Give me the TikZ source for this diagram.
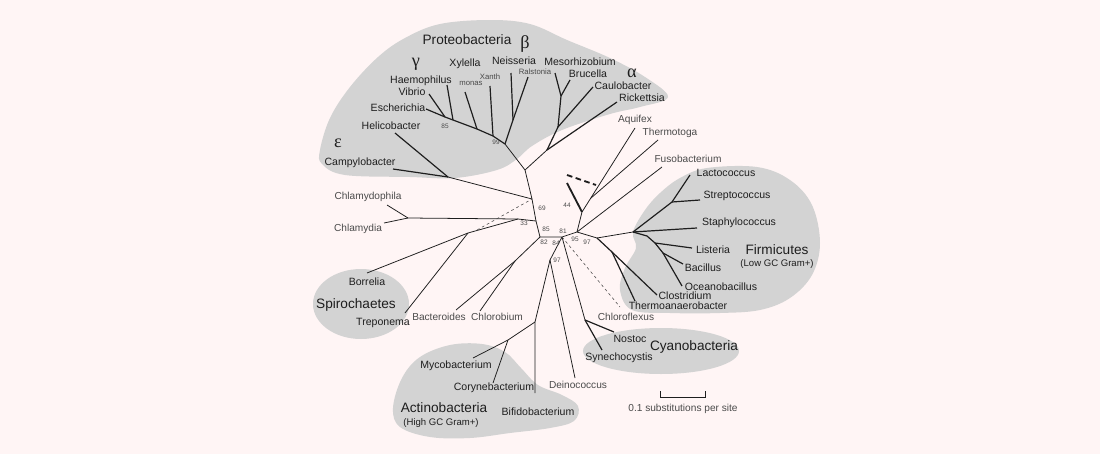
\documentclass[tikz,border=0pt]{standalone}
\usepackage{fontspec}
\setmainfont{Liberation Sans}
\newfontfamily\greekfont{Liberation Serif}
\usepackage{tikz}
\usetikzlibrary{positioning,calc}
\definecolor{TreeBg}{HTML}{FFF5F5}
\definecolor{TreeBlob}{HTML}{D3D3D3}
\definecolor{TreeInk}{HTML}{1E1E1E}
\definecolor{TreeSoft}{HTML}{4A4A4A}

\begin{document}
\begin{tikzpicture}[x=0.025cm,y=-0.025cm,
  blob/.style={fill=TreeBlob,draw=none},
  branch/.style={draw=TreeInk,line width=0.55pt},
  inbranch/.style={draw=TreeInk,line width=0.85pt},
  altbranch/.style={draw=TreeSoft,line width=0.4pt,dash pattern=on 2pt off 2pt},
  boldalt/.style={draw=TreeInk,line width=1.3pt},
  taxon/.style={font=\fontsize{7.5}{8}\selectfont,text=TreeInk,inner sep=0pt},
  outer/.style={font=\fontsize{7.2}{8}\selectfont,text=TreeSoft,inner sep=0pt},
  tiny/.style={font=\fontsize{5.5}{6}\selectfont,text=TreeSoft,inner sep=0pt},
  group/.style={font=\fontsize{9.7}{11}\selectfont,text=TreeInk,inner sep=0pt},
  greek/.style={font=\greekfont\fontsize{13}{13}\selectfont,text=TreeInk,inner sep=0pt},
  boot/.style={font=\fontsize{4.6}{5}\selectfont,text=TreeSoft,inner sep=0pt},
]
\fill[TreeBg] (0,0) rectangle (1100,454);
\useasboundingbox (0,0) rectangle (1100,454);

\fill[blob] plot[smooth cycle,tension=0.6] coordinates {(320,150) (330,118) (350,87) (378,57) (405,38) (440,24) (490,20) (530,24) (567,40) (610,58) (645,77) (668,97) (640,107) (610,114) (562,130) (532,146) (517,159) (497,170) (455,178) (410,177) (345,175) (322,164)};
\fill[blob] (361,304) ellipse [x radius=48,y radius=35];
\fill[blob] plot[smooth cycle,tension=0.6] coordinates {(393,408) (402,378) (420,357) (450,345) (482,344) (505,352) (521,368) (538,385) (562,395) (578,406) (574,421) (550,428) (510,433) (470,438) (430,437) (400,427)};
\fill[blob] (661,351) ellipse [x radius=78,y radius=23];
\fill[blob] plot[smooth cycle,tension=0.6] coordinates {(633,232) (645,210) (660,193) (680,178) (707,168) (757,167) (790,180) (812,205) (820,243) (812,275) (790,298) (760,310) (720,313) (670,313) (632,310) (620,290) (625,268) (636,248)};

\coordinate (proteo-base) at (525,170);
\coordinate (eps-join) at (532,199);
\coordinate (chla-join) at (536,221);
\coordinate (centre) at (540,237);
\coordinate (right-hub) at (562,237);
\coordinate (therm-hub) at (577,232);
\coordinate (aquif-hub) at (582,212);
\coordinate (thtg-hub) at (591,198);
\coordinate (alpha-1) at (547,150);
\coordinate (alpha-2) at (558,127);
\coordinate (alpha-3) at (561,96);
\coordinate (gb-hub) at (505,144);
\coordinate (beta-hub) at (513,120);
\coordinate (gamma-x) at (493,136);
\coordinate (gamma-m) at (477,129);
\coordinate (gamma-h) at (453,120);
\coordinate (gamma-v) at (445,117);
\coordinate (eps-hub) at (448,177);
\coordinate (chla-hub) at (518,219);
\coordinate (chla-pair) at (408,218);
\coordinate (spiro-hub) at (468,233);
\coordinate (spiro-alt) at (477,230);
\coordinate (bact-hub) at (515,261);
\coordinate (low-hub) at (550,260);
\coordinate (actino-hub) at (535,322);
\coordinate (myco-hub) at (508,340);
\coordinate (cyano-hub) at (585,320);
\coordinate (firm-base) at (597,238);
\coordinate (firm-hub) at (633,232);
\coordinate (lacto-hub) at (672,202);
\coordinate (list-hub) at (647,236);
\coordinate (list-pair) at (655,243);
\coordinate (bacil-hub) at (663,253);
\coordinate (clos-hub) at (612,252);

\coordinate (rick-tip) at (617,102);
\coordinate (caul-tip) at (593,87);
\coordinate (bruc-tip) at (570,80);
\coordinate (meso-tip) at (555,73);
\coordinate (neis-tip) at (511,73);
\coordinate (rals-tip) at (528,77);
\coordinate (xanth-tip) at (490,86);
\coordinate (monas-tip) at (465,92);
\coordinate (haem-tip) at (447,85);
\coordinate (vib-tip) at (429,94);
\coordinate (esch-tip) at (426,109);
\coordinate (heli-tip) at (395,133);
\coordinate (camp-tip) at (393,169);
\coordinate (chlp-tip) at (387,205);
\coordinate (chla-tip) at (384,223);
\coordinate (borr-tip) at (367,273);
\coordinate (trep-tip) at (405,313);
\coordinate (bact-tip) at (456,310);
\coordinate (chlo-tip) at (480,311);
\coordinate (myco-tip) at (473,358);
\coordinate (cory-tip) at (493,383);
\coordinate (bifi-tip) at (535,393);
\coordinate (deino-tip) at (575,378);
\coordinate (nost-tip) at (614,332);
\coordinate (syne-tip) at (602,350);
\coordinate (flex-tip) at (620,307);
\coordinate (aquif-tip) at (635,128);
\coordinate (thtg-tip) at (658,140);
\coordinate (fuso-tip) at (662,167);
\coordinate (lacto-tip) at (690,175);
\coordinate (strep-tip) at (700,200);
\coordinate (staph-tip) at (697,228);
\coordinate (list-tip) at (692,248);
\coordinate (bacil-tip) at (683,264);
\coordinate (ocea-tip) at (682,286);
\coordinate (clos-tip) at (657,295);
\coordinate (thana-tip) at (635,301);
\coordinate (alt-a) at (567,183);
\coordinate (alt-b) at (567,175);
\coordinate (alt-c) at (596,185);
\coordinate (bar-l) at (660,391);
\coordinate (bar-r) at (705,391);

\draw[branch] (proteo-base) -- (eps-join) -- (chla-join) -- (centre) -- (right-hub) -- (therm-hub) -- (firm-base);
\draw[branch] (proteo-base) -- (alpha-1);
\draw[inbranch] (alpha-1) -- (rick-tip);
\draw[inbranch] (alpha-1) -- (alpha-2) -- (caul-tip);
\draw[inbranch] (alpha-2) -- (alpha-3) -- (bruc-tip);
\draw[inbranch] (alpha-3) -- (meso-tip);
\draw[branch] (proteo-base) -- (gb-hub);
\draw[inbranch] (gb-hub) -- (beta-hub) -- (neis-tip);
\draw[inbranch] (beta-hub) -- (rals-tip);
\draw[inbranch] (gb-hub) -- (gamma-x) -- (gamma-m) -- (gamma-h) -- (gamma-v) -- (esch-tip);
\draw[inbranch] (gamma-x) -- (xanth-tip);
\draw[inbranch] (gamma-m) -- (monas-tip);
\draw[inbranch] (gamma-h) -- (haem-tip);
\draw[inbranch] (gamma-v) -- (vib-tip);
\draw[branch] (eps-join) -- (eps-hub);
\draw[inbranch] (eps-hub) -- (heli-tip);
\draw[inbranch] (eps-hub) -- (camp-tip);
\draw[branch] (chla-join) -- (chla-hub) -- (chla-pair) -- (chlp-tip);
\draw[branch] (chla-pair) -- (chla-tip);
\draw[branch] (chla-hub) -- (spiro-hub) -- (borr-tip);
\draw[branch] (spiro-hub) -- (trep-tip);
\draw[altbranch] (spiro-alt) -- (eps-join);
\draw[branch] (centre) -- (bact-hub) -- (bact-tip);
\draw[branch] (bact-hub) -- (chlo-tip);
\draw[branch] (right-hub) -- (low-hub) -- (actino-hub) -- (bifi-tip);
\draw[branch] (actino-hub) -- (myco-hub) -- (myco-tip);
\draw[branch] (myco-hub) -- (cory-tip);
\draw[branch] (low-hub) -- (deino-tip);
\draw[branch] (right-hub) -- (cyano-hub);
\draw[inbranch] (cyano-hub) -- (nost-tip);
\draw[inbranch] (cyano-hub) -- (syne-tip);
\draw[altbranch] (right-hub) -- (flex-tip);
\draw[branch] (therm-hub) -- (aquif-hub) -- (aquif-tip);
\draw[branch] (thtg-hub) -- (thtg-tip);
\draw[branch] (therm-hub) -- (fuso-tip);
\draw[boldalt] (alt-a) -- (aquif-hub);
\draw[boldalt,dash pattern=on 4pt off 2.5pt] (alt-b) -- (alt-c);
\draw[branch] (firm-base) -- (firm-hub);
\draw[inbranch] (firm-hub) -- (lacto-hub) -- (lacto-tip);
\draw[inbranch] (lacto-hub) -- (strep-tip);
\draw[inbranch] (firm-hub) -- (staph-tip);
\draw[inbranch] (firm-hub) -- (list-hub) -- (list-pair) -- (list-tip);
\draw[inbranch] (list-pair) -- (bacil-hub) -- (bacil-tip);
\draw[inbranch] (bacil-hub) -- (ocea-tip);
\draw[inbranch] (firm-base) -- (clos-hub) -- (clos-tip);
\draw[inbranch] (clos-hub) -- (thana-tip);
\draw[branch] (bar-l) -- ++(0,6) -- ($(bar-r)+(0,6)$) -- (bar-r);

\node[group] (proteo) at (467,40) {Proteobacteria};
\node[greek] (beta) at (525,44) {β};
\node[greek] (gamma) at (416,64) {γ};
\node[greek] (alpha) at (632,73) {α};
\node[greek] (epsilon) at (338,143) {ε};
\node[taxon] (xylella) at (465,64) {Xylella};
\node[tiny] (xanth) at (490,77) {Xanth};
\node[taxon] (neisseria) at (514,61) {Neisseria};
\node[tiny] (ralstonia) at (535,72) {Ralstonia};
\node[taxon] (mesorhizobium) at (580,62) {Mesorhizobium};
\node[taxon] (brucella) at (588,74) {Brucella};
\node[taxon] (caulobacter) at (623,86) {Caulobacter};
\node[taxon] (rickettsia) at (642,98) {Rickettsia};
\node[taxon] (haemophilus) at (421,81) {Haemophilus};
\node[tiny] (monas) at (471,83) {monas};
\node[taxon] (vibrio) at (412,92) {Vibrio};
\node[taxon] (escherichia) at (398,108) {Escherichia};
\node[taxon] (helicobacter) at (391,126) {Helicobacter};
\node[taxon] (campylobacter) at (360,163) {Campylobacter};
\node[boot] (bs-85a) at (445,126) {85};
\node[boot] (bs-99) at (496,142) {99};

\node[outer] (aquifex) at (635,120) {Aquifex};
\node[outer] (thermotoga) at (670,133) {Thermotoga};
\node[outer] (fusobacterium) at (688,159) {Fusobacterium};
\node[outer] (chlamydophila) at (368,197) {Chlamydophila};
\node[outer] (chlamydia) at (358,229) {Chlamydia};
\node[taxon] (borrelia) at (367,282) {Borrelia};
\node[group] (spirochaetes) at (356,305) {Spirochaetes};
\node[taxon] (treponema) at (383,323) {Treponema};
\node[outer] (bacteroides) at (439,317) {Bacteroides};
\node[outer] (chlorobium) at (497,317) {Chlorobium};

\node[taxon] (mycobacterium) at (456,366) {Mycobacterium};
\node[taxon] (corynebacterium) at (494,388) {Corynebacterium};
\node[group] (actino) at (444,408) {Actinobacteria};
\node[taxon,font=\fontsize{6.8}{8}\selectfont] (actino-gc) at (441,423) {(High GC Gram+)};
\node[taxon] (bifidobacterium) at (538,412) {Bifidobacterium};
\node[outer] (deinococcus) at (578,385) {Deinococcus};

\node[outer] (chloroflexus) at (626,317) {Chloroflexus};
\node[taxon] (nostoc) at (630,339) {Nostoc};
\node[taxon] (synechocystis) at (619,358) {Synechocystis};
\node[group] (cyano) at (694,347) {Cyanobacteria};

\node[taxon] (lactococcus) at (726,173) {Lactococcus};
\node[taxon] (streptococcus) at (737,196) {Streptococcus};
\node[taxon] (staphylococcus) at (739,223) {Staphylococcus};
\node[taxon] (listeria) at (713,250) {Listeria};
\node[taxon] (bacillus) at (703,268) {Bacillus};
\node[taxon] (oceanobacillus) at (721,287) {Oceanobacillus};
\node[taxon] (clostridium) at (685,296) {Clostridium};
\node[taxon] (thermoanaerobacter) at (678,306) {Thermoanaerobacter};
\node[group] (firmicutes) at (777,250) {Firmicutes};
\node[taxon,font=\fontsize{6.8}{8}\selectfont] (firm-gc) at (777,264) {(Low GC Gram+)};

\node[boot] (bs-69) at (542,208) {69};
\node[boot] (bs-33) at (524,223) {33};
\node[boot] (bs-85b) at (546,229) {85};
\node[boot] (bs-81) at (563,231) {81};
\node[boot] (bs-82) at (544,242) {82};
\node[boot] (bs-84) at (556,243) {84};
\node[boot] (bs-95) at (575,239) {95};
\node[boot] (bs-97a) at (587,242) {97};
\node[boot] (bs-97b) at (557,260) {97};
\node[boot] (bs-44) at (567,205) {44};

\node[outer] (scale) at (683,409) {0.1 substitutions per site};
\end{tikzpicture}
\end{document}
